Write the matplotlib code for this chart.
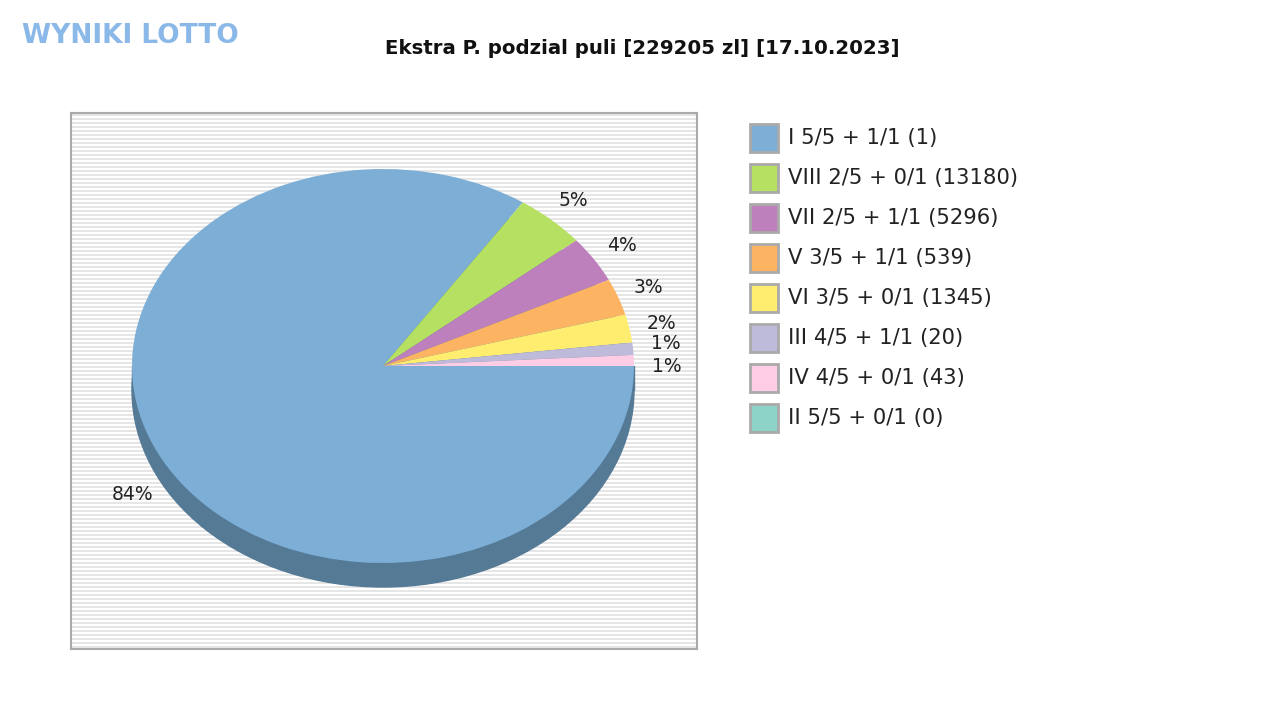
import matplotlib
matplotlib.use("Agg")
import matplotlib.pyplot as plt
import numpy as np
from matplotlib.patches import Wedge, Rectangle, Ellipse
from matplotlib.transforms import Affine2D

labels = ["I 5/5 + 1/1 (1)", "VIII 2/5 + 0/1 (13180)", "VII 2/5 + 1/1 (5296)",
          "V 3/5 + 1/1 (539)", "VI 3/5 + 0/1 (1345)", "III 4/5 + 1/1 (20)",
          "IV 4/5 + 0/1 (43)", "II 5/5 + 0/1 (0)"]
shares = [84.4, 4.6, 3.8, 3.0, 2.3, 1.0, 0.9, 0.0]
pct_text = ["84%", "5%", "4%", "3%", "2%", "1%", "1%", ""]
colors = ["#7daed6", "#b5e061", "#bd80bd", "#fdb462", "#ffed6f", "#bebada", "#fccde5", "#8dd3c7"]

fig = plt.figure(figsize=(12.8, 7.2), dpi=100)
fig.text(642/1280, 1-48/720, "Ekstra P. podzial puli [229205 zl] [17.10.2023]",
         ha="center", va="center", fontsize=14.2, fontweight="bold", color="#111111")
fig.text(22/1280, 1-36/720, "WYNIKI LOTTO", ha="left", va="center", fontsize=19,
         fontweight="bold", color="#8ab8e8", family="DejaVu Sans")

ax = fig.add_axes([71/1280, 71/720, 626/1280, 536/720])
ax.set_xlim(71, 697); ax.set_ylim(71, 607)
ax.set_xticks([]); ax.set_yticks([])
for s in ax.spines.values():
    s.set_color("#aaaaaa"); s.set_linewidth(1.5)
for y in np.arange(73, 607, 4):
    ax.axhline(y, color="#e2e2e2", lw=1.2, zorder=0)

cx, cy, rx, ry, d = 383, 354, 251, 197, 24
tr = Affine2D().scale(rx, ry).translate(cx, cy) + ax.transData
trd = Affine2D().scale(rx, ry).translate(cx, cy - d) + ax.transData
dark = "#557a96"
ax.add_patch(Ellipse((0, 0), 2, 2, transform=trd, color=dark, zorder=1))
ax.add_patch(Rectangle((-1, -d/ry), 2, d/ry, transform=tr, color=dark, zorder=1))

ang = 0.0
for i, (v, c, t) in enumerate(zip(shares, colors, pct_text)):
    if v <= 0:
        continue
    sweep = v / 100 * 360
    a1, a2 = ang - sweep, ang
    ax.add_patch(Wedge((0, 0), 1, a1, a2, transform=tr, color=c, zorder=2, lw=0))
    mid = np.deg2rad((a1 + a2) / 2)
    x = cx + rx * 1.13 * np.cos(mid)
    y = cy + ry * 1.13 * np.sin(mid) - (d if np.sin(mid) < 0 else 0)
    if i == 5:
        y += 3
    if i == 6:
        y -= 7
    ax.text(x, y, t, ha="center", va="center", fontsize=13.5, color="#222222", zorder=3)
    ang -= sweep

for i, (lab, c) in enumerate(zip(labels, colors)):
    yy = 1 - (138 + 40*i)/720
    fig.patches.append(Rectangle((750/1280, yy - 14/720), 28/1280, 28/720,
                                 transform=fig.transFigure, facecolor=c,
                                 edgecolor="#aaaaaa", lw=2))
    fig.text(788/1280, yy, lab, ha="left", va="center", fontsize=15.2, color="#222222")

fig.savefig("out.png", dpi=100)
